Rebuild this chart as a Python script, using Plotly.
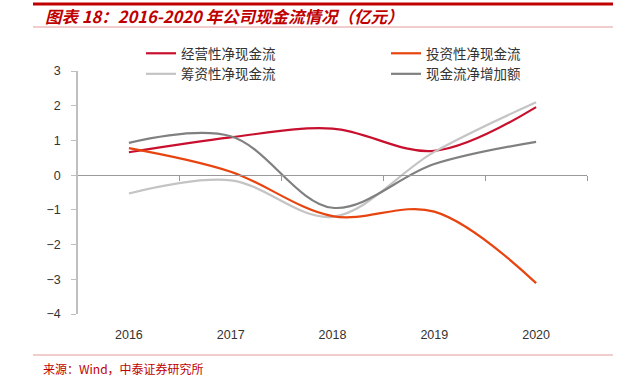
import plotly.graph_objects as go

years = ["2016", "2017", "2018", "2019", "2020"]
operating = [0.66, 1.09, 1.34, 0.70, 1.96]
investing = [0.78, 0.10, -1.18, -1.05, -3.11]
financing = [-0.53, -0.15, -1.20, 0.67, 2.10]
net_change = [0.93, 1.12, -0.94, 0.32, 0.96]

names = ["经营性净现金流", "投资性净现金流", "筹资性净现金流", "现金流净增加额"]
colors = ["#C8102E", "#E8440F", "#C4C4C4", "#808080"]
series = [operating, investing, financing, net_change]
legend_ids = ["legend", "legend2", "legend", "legend2"]

W, H = 626, 379
ml, mr, mt, mb = 78, 39, 20, 65
PW = W - ml - mr
PH = H - mt - mb
plot_top_px = 71
dom_top = (H - mb - plot_top_px) / PH


def px_x(px):
    return (px - ml) / PW


def px_y(py):
    return (H - mb - py) / PH


x = list(range(len(years)))
fig = go.Figure()
for i in [0, 2, 1, 3]:
    fig.add_trace(go.Scatter(x=x, y=series[i], name=names[i], mode="lines",
                             legend=legend_ids[i],
                             line=dict(color=colors[i], width=2.2, shape="spline", smoothing=1.0)))

fig.add_trace(go.Scatter(x=[-0.5, 4.5], y=[0, 0], xaxis="x2", mode="lines",
                         line=dict(width=0), showlegend=False, hoverinfo="skip"))

leg_font = dict(family="Noto Sans CJK SC", size=13.5, color="#333333")
fig.update_layout(
    width=W, height=H,
    margin=dict(l=ml, r=mr, t=mt, b=mb),
    paper_bgcolor="white", plot_bgcolor="white",
    font=dict(family="Liberation Sans, Arial", size=12, color="#333333"),
    xaxis=dict(range=[-0.5, 4.5], tickvals=x, ticktext=years, showgrid=False,
               zeroline=False, showline=False, ticks="", ticklabelstandoff=11,
               tickfont=dict(size=12.5, color="#333333")),
    xaxis2=dict(range=[-0.5, 4.5], overlaying="x", anchor="free", position=dom_top * 4 / 7,
                tickvals=[0.5, 1.5, 2.5, 3.5, 4.5], showticklabels=False,
                ticks="outside", ticklen=5, tickcolor="#999999", tickwidth=1,
                showline=True, linecolor="#999999", linewidth=1, showgrid=False,
                zeroline=False),
    yaxis=dict(domain=[0, dom_top], range=[-4, 3], dtick=1, showgrid=False, zeroline=False,
               showline=True, linecolor="#BFBFBF", linewidth=1.5,
               ticks="outside", ticklen=5, tickcolor="#BFBFBF",
               ticklabelstandoff=8, tickfont=dict(size=12.5, color="#333333")),
    legend=dict(orientation="v", x=px_x(141), xanchor="left",
                y=px_y(38), yanchor="top", tracegroupgap=0,
                font=leg_font, bgcolor="rgba(0,0,0,0)"),
    legend2=dict(orientation="v", x=px_x(386), xanchor="left",
                 y=px_y(38), yanchor="top", tracegroupgap=0,
                 font=leg_font, bgcolor="rgba(0,0,0,0)"),
    showlegend=True,
)

x0, x1 = px_x(33), px_x(613)
fig.add_shape(type="line", xref="paper", yref="paper", x0=x0, x1=x1,
              y0=px_y(4), y1=px_y(4), line=dict(color="#C00000", width=3))
fig.add_shape(type="line", xref="paper", yref="paper", x0=x0, x1=x1,
              y0=px_y(27), y1=px_y(27), line=dict(color="#E39A9A", width=1))
fig.add_shape(type="line", xref="paper", yref="paper", x0=x0, x1=x1,
              y0=px_y(355), y1=px_y(355), line=dict(color="#E39A9A", width=1))

fig.add_annotation(text="<b>图表 18：2016-2020 年公司现金流情况（亿元）</b>",
                   xref="paper", yref="paper", showarrow=False,
                   x=px_x(43), xanchor="left", y=px_y(16), yanchor="middle",
                   font=dict(family="Noto Sans CJK SC", size=16.5, color="#C00000", style="italic"))
fig.add_annotation(text="来源：Wind，中泰证券研究所",
                   xref="paper", yref="paper", showarrow=False,
                   x=px_x(41), xanchor="left", y=px_y(368), yanchor="middle",
                   font=dict(family="Noto Sans CJK SC", size=12, color="#C00000"))

fig.write_html("out.html", config={"displayModeBar": False},
               post_script="document.body.style.margin='0px';")
